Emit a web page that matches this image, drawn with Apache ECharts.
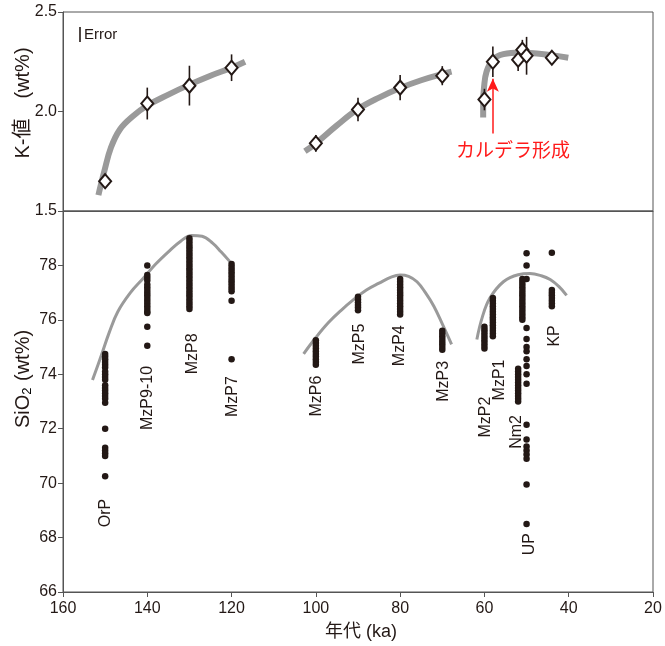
<!DOCTYPE html>
<html>
<head>
<meta charset="utf-8">
<script src="https://cdn.jsdelivr.net/npm/echarts@6/dist/echarts.min.js"></script>
<style>
  html, body { margin: 0; padding: 0; background: #fff; }
  #chart { width: 665px; height: 646px; }
</style>
</head>
<body>
<div id="chart"></div>
<script>
// K-値 (top panel)
const kAge = [150, 140, 130, 120, 100, 90, 80, 70, 60, 58, 52, 51, 50, 44];
const kValue = [1.65, 2.04, 2.13, 2.22, 1.84, 2.01, 2.12, 2.18, 2.06, 2.25, 2.26, 2.31, 2.28, 2.27];
const kError = [0, 0.08, 0.10, 0.067, 0.042, 0.059, 0.063, 0.048, 0.054, 0.077, 0.056, 0.05, 0.095, 0];

// gray trend curves, top panel
const kTrendA = [[151.6, 1.58], [150.2, 1.70], [148.6, 1.82], [146.5, 1.91], [143.5, 1.975], [140, 2.03], [135, 2.085], [130, 2.135], [125, 2.18], [120, 2.22], [116.8, 2.25]];
const kTrendB = [[102.6, 1.80], [100, 1.84], [95, 1.93], [90, 2.012], [85, 2.07], [80, 2.118], [75, 2.157], [70, 2.188], [67.8, 2.20]];
const kTrendC = [[60.3, 1.97], [60.3, 2.05], [60.1, 2.12], [59.5, 2.20], [57.9, 2.262], [55.5, 2.288], [51.5, 2.297], [47, 2.29], [43.7, 2.282], [40.1, 2.27]];

// SiO2 (bottom panel), one list per tephra column
const sio2OrP = [74.75, 74.65, 74.55, 74.45, 74.35, 74.25, 74.1, 74.0, 73.9, 73.8, 73.6, 73.5, 73.4, 73.3, 73.2, 73.1, 72.95, 72.0, 71.3, 71.2, 71.1, 71.0, 70.25];
const sio2MzP910 = [78.0, 77.65, 77.55, 77.45, 77.3, 77.2, 77.1, 77.0, 76.9, 76.8, 76.7, 76.6, 76.5, 76.4, 76.3, 76.25, 75.75, 75.05];
const sio2MzP8 = [79.0, 78.9, 78.8, 78.7, 78.6, 78.5, 78.4, 78.3, 78.2, 78.1, 78.0, 77.9, 77.8, 77.7, 77.6, 77.5, 77.4, 77.3, 77.2, 77.1, 77.0, 76.9, 76.8, 76.7, 76.6, 76.5, 76.4];
const sio2MzP7 = [78.05, 77.95, 77.85, 77.75, 77.65, 77.55, 77.45, 77.35, 77.25, 77.15, 77.05, 76.7, 74.55];
const sio2MzP6 = [75.25, 75.15, 75.05, 74.95, 74.85, 74.75, 74.65, 74.55, 74.45, 74.35];
const sio2MzP5 = [76.85, 76.75, 76.65, 76.55, 76.45, 76.35];
const sio2MzP4 = [77.5, 77.4, 77.3, 77.2, 77.1, 77.0, 76.9, 76.8, 76.7, 76.6, 76.5, 76.4, 76.3, 76.2];
const sio2MzP3 = [75.6, 75.5, 75.4, 75.3, 75.2, 75.1, 75.0, 74.9];
const sio2MzP2 = [75.75, 75.65, 75.55, 75.45, 75.35, 75.25, 75.15, 75.05, 74.95];
const sio2MzP1 = [76.8, 76.7, 76.6, 76.5, 76.4, 76.3, 76.2, 76.1, 76.0, 75.9, 75.8, 75.7, 75.6, 75.5, 75.4];
const sio2Nm2 = [74.2, 74.1, 74.0, 73.9, 73.8, 73.7, 73.6, 73.5, 73.4, 73.3, 73.2, 73.1, 73.0];
const sio2UPdense = [77.5, 77.4, 77.3, 77.2, 77.1, 77.0, 76.9, 76.8, 76.7, 76.6, 76.5, 76.4, 76.3, 76.2, 76.1, 76.0];
const sio2UP = [78.45, 78.0, 77.5, 75.7, 75.3, 75.0, 74.85, 74.55, 74.3, 74.0, 73.65, 72.15, 71.6, 71.35, 71.2, 71.05, 70.9, 69.95, 68.5];
const sio2KP = [78.47, 77.1, 77.0, 76.9, 76.8, 76.7, 76.6, 76.5];

const sio2Ages = [150, 140, 130, 120, 100, 90, 80, 70, 60, 58, 52, 51, 50, 44];
const sio2Columns = [sio2OrP, sio2MzP910, sio2MzP8, sio2MzP7, sio2MzP6, sio2MzP5, sio2MzP4, sio2MzP3, sio2MzP2, sio2MzP1, sio2Nm2, sio2UPdense, sio2UP, sio2KP];

// gray trend curves, bottom panel
const sio2TrendA = [[153, 73.79], [151, 74.65], [149, 75.55], [147, 76.3], [144, 77.0], [141, 77.52], [138, 78.05], [135, 78.5], [132, 78.9], [129.5, 79.1], [127, 79.07], [124.5, 78.82], [122.5, 78.5], [120.4, 78.14]];
const sio2TrendB = [[102.9, 74.75], [100, 75.35], [97, 75.9], [94, 76.35], [91, 76.75], [88, 77.1], [85, 77.35], [82, 77.58], [80, 77.65], [78, 77.6], [76, 77.4], [74, 77.0], [72, 76.5], [70, 75.85], [67.8, 75.1]];
const sio2TrendC = [[61.8, 75.28], [60.5, 76.1], [58.7, 76.8], [55.5, 77.4], [52, 77.66], [49.2, 77.7], [46.5, 77.62], [44.4, 77.48], [42.3, 77.22], [40.5, 76.9]];

// tephra names, anchored in data units
const labelNames = ['OrP', 'MzP9-10', 'MzP8', 'MzP7', 'MzP6', 'MzP5', 'MzP4', 'MzP3', 'MzP2', 'MzP1', 'Nm2', 'UP', 'KP'];
const labelAges = [150, 140, 129.2, 119.8, 99.8, 89.7, 80.2, 69.6, 59.7, 56.3, 52.3, 49.2, 43.3];
const labelSiO2 = [68.9, 73.13, 74.75, 73.18, 73.2, 75.11, 75.05, 73.74, 72.43, 73.79, 71.88, 67.76, 75.41];

const FONT = "'Liberation Sans', 'Noto Sans CJK JP', sans-serif";
const INK = '#231815';
const AXIS = '#555';
const TREND = '#9a9a9a';

const chart = echarts.init(document.getElementById('chart'));

const xBase = { type: 'value', min: 20, max: 160, interval: 20, inverse: true, splitLine: { show: false } };

function trendSeries(data, axis, width) {
  return {
    type: 'line', xAxisIndex: axis, yAxisIndex: axis, data: data,
    smooth: 0.4, symbol: 'none', silent: true, z: 1,
    lineStyle: { color: TREND, width: width, cap: 'butt' }
  };
}

const dotSeries = sio2Columns.map((col, i) => ({
  type: 'scatter', xAxisIndex: 1, yAxisIndex: 1,
  data: col.map(v => [sio2Ages[i], v]),
  symbolSize: 6.5, itemStyle: { color: INK, opacity: 1 }, z: 3
}));

chart.setOption({
  animation: false,
  textStyle: { fontFamily: FONT },
  grid: [
    { left: 63, top: 12, right: 12, height: 199, show: true, borderColor: AXIS, borderWidth: 1 },
    { left: 63, top: 211, right: 12, bottom: 54, show: true, borderColor: AXIS, borderWidth: 1 }
  ],
  xAxis: [
    Object.assign({}, xBase, {
      gridIndex: 0, axisLabel: { show: false }, axisTick: { show: false },
      axisLine: { onZero: false, lineStyle: { color: AXIS } }
    }),
    Object.assign({}, xBase, {
      gridIndex: 1,
      axisLabel: { fontSize: 16, color: INK, margin: 9, fontFamily: FONT },
      axisTick: { length: 5, lineStyle: { color: AXIS } },
      axisLine: { onZero: false, lineStyle: { color: AXIS } }
    })
  ],
  yAxis: [
    {
      type: 'value', gridIndex: 0, min: 1.5, max: 2.5, interval: 0.5,
      axisLabel: { fontSize: 16, color: INK, margin: 6, fontFamily: FONT, formatter: v => v.toFixed(1) },
      axisTick: { show: true, length: 5, lineStyle: { color: AXIS } },
      axisLine: { show: true, onZero: false, lineStyle: { color: AXIS } },
      splitLine: { show: false }
    },
    {
      type: 'value', gridIndex: 1, min: 66, max: 80, interval: 2,
      axisLabel: { fontSize: 16, color: INK, margin: 6, fontFamily: FONT, formatter: v => (v === 80 ? '' : v) },
      axisTick: { show: true, length: 5, lineStyle: { color: AXIS } },
      axisLine: { show: true, onZero: false, lineStyle: { color: AXIS } },
      splitLine: { show: false }
    }
  ],
  series: [
    trendSeries(kTrendA, 0, 6),
    trendSeries(kTrendB, 0, 6),
    trendSeries(kTrendC, 0, 6),
    {
      type: 'custom', xAxisIndex: 0, yAxisIndex: 0, z: 3, silent: true,
      data: kAge.map((a, i) => [a, kValue[i], kError[i]]),
      renderItem: function (params, api) {
        const x = api.value(0), y = api.value(1), e = api.value(2);
        if (!e) return { type: 'group', children: [] };
        const p1 = api.coord([x, y - e]);
        const p2 = api.coord([x, y + e]);
        return {
          type: 'line',
          shape: { x1: p1[0], y1: p1[1], x2: p2[0], y2: p2[1] },
          style: { stroke: INK, lineWidth: 1.6 }
        };
      }
    },
    {
      type: 'scatter', xAxisIndex: 0, yAxisIndex: 0, z: 4,
      data: kAge.map((a, i) => [a, kValue[i]]),
      symbol: 'diamond', symbolSize: [12, 14],
      itemStyle: { color: '#fff', borderColor: INK, borderWidth: 2, opacity: 1 },
      markLine: {
        silent: true, symbol: ['none', 'arrow'], symbolSize: [9, 13],
        lineStyle: { color: '#ff1a1a', width: 1.5, type: 'solid' },
        label: { show: false },
        data: [[{ coord: [58, 1.89] }, { coord: [58, 2.165] }]]
      }
    },
    trendSeries(sio2TrendA, 1, 3),
    trendSeries(sio2TrendB, 1, 3),
    trendSeries(sio2TrendC, 1, 3),
    ...dotSeries,
    {
      type: 'scatter', xAxisIndex: 1, yAxisIndex: 1, z: 5, silent: true,
      data: labelNames.map((n, i) => ({ name: n, value: [labelAges[i], labelSiO2[i]] })),
      symbolSize: 1, itemStyle: { color: 'rgba(0,0,0,0)', opacity: 1 },
      label: {
        show: true, position: 'inside', rotate: 90, formatter: '{b}',
        fontSize: 16, color: INK, fontFamily: FONT
      }
    }
  ],
  graphic: [
    { type: 'line', shape: { x1: 80, y1: 27, x2: 80, y2: 42 }, style: { stroke: INK, lineWidth: 1.6 } },
    { type: 'text', x: 84, y: 35, style: { text: 'Error', fill: INK, font: '15px ' + FONT, verticalAlign: 'middle', align: 'left' } },
    { type: 'text', x: 513, y: 152, style: { text: 'カルデラ形成', fill: '#ff1a1a', font: '19px ' + FONT, align: 'center', verticalAlign: 'middle' } },
    {
      type: 'text', x: 23, y: 103, rotation: Math.PI / 2,
      style: { text: 'K-値　(wt%)', fill: INK, font: '20px ' + FONT, align: 'center', verticalAlign: 'middle' }
    },
    {
      type: 'text', x: 23, y: 379, rotation: Math.PI / 2,
      style: {
        text: '{a|SiO}{b|2}{a| (wt%)}', align: 'center', verticalAlign: 'middle',
        rich: {
          a: { fontSize: 20, fontFamily: FONT, fill: INK, color: INK },
          b: { fontSize: 13, fontFamily: FONT, color: INK, padding: [9, 1, 0, 0] }
        }
      }
    },
    { type: 'text', x: 361, y: 632, style: { text: '年代 (ka)', fill: INK, font: '18px ' + FONT, align: 'center', verticalAlign: 'middle' } }
  ]
});
</script>
</body>
</html>
